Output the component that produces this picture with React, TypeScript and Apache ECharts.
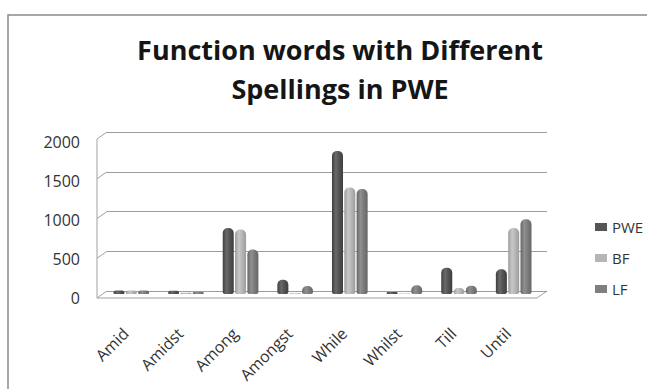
import React, { useEffect, useRef } from "react";
import * as echarts from "echarts";

const categories = ["Amid", "Amidst", "Among", "Amongst", "While", "Whilst", "Till", "Until"];
const seriesNames = ["PWE", "BF", "LF"];
const pweValues = [45, 40, 830, 180, 1800, 25, 330, 310];
const bfValues = [45, 15, 810, 10, 1340, 5, 75, 830];
const lfValues = [45, 25, 560, 100, 1320, 110, 105, 940];
const yTicks = [0, 500, 1000, 1500, 2000];
const legendColors = ["#555555", "#b6b6b6", "#7f7f7f"];

const FONT = "'Open Sans', 'DejaVu Sans', sans-serif";

function cyl(edge: string, mid: string, hi: string) {
  return {
    type: "linear",
    x: 0,
    y: 0,
    x2: 1,
    y2: 0,
    colorStops: [
      { offset: 0, color: edge },
      { offset: 0.35, color: hi },
      { offset: 0.6, color: mid },
      { offset: 1, color: edge },
    ],
  };
}

export default function App() {
  const ref = useRef<HTMLDivElement>(null);
  useEffect(() => {
    if (!ref.current) return;
    const chart = echarts.init(ref.current, undefined, { renderer: "svg" });

    const wallLeft = 107;
    const wallRight = 547;
    const wallTop = 132;
    const wallH = 159;
    const depthX = 10;
    const depthY = 5;
    const frontLeft = wallLeft - depthX;
    const yMax = yTicks[yTicks.length - 1];
    const gridYs = yTicks.map((t) => wallTop + wallH - (t / yMax) * wallH);
    const floorBack = wallTop + wallH;
    const floorFront = floorBack + depthY + 2;

    const deco: any[] = [
      {
        type: "rect",
        shape: { x: 8, y: 15, width: 720, height: 420 },
        style: { fill: "none", stroke: "#8a8a8a", lineWidth: 1.5 },
        silent: true,
      },
      {
        type: "text",
        x: 340,
        y: 30,
        style: {
          text: "Function words with Different\nSpellings in PWE",
          align: "center",
          verticalAlign: "top",
          font: `bold 27px ${FONT}`,
          lineHeight: 39,
          fill: "#151515",
        },
      },
      {
        type: "line",
        shape: { x1: frontLeft, y1: gridYs[gridYs.length - 1] + depthY + 2, x2: frontLeft, y2: floorFront },
        style: { stroke: "#a0a0a0", lineWidth: 1 },
        silent: true,
      },
      {
        type: "polyline",
        shape: {
          points: [
            [frontLeft, floorFront],
            [wallRight - depthX, floorFront],
            [wallRight, floorBack],
          ],
        },
        style: { stroke: "#a0a0a0", lineWidth: 1, fill: "none" },
        silent: true,
      },
    ];
    gridYs.forEach((gy, i) => {
      deco.push({
        type: "line",
        shape: { x1: frontLeft, y1: i === 0 ? floorFront : gy + depthY + 2, x2: wallLeft, y2: gy },
        style: { stroke: "#a0a0a0", lineWidth: 1 },
        silent: true,
      });
    });

    const mkSeries = (name: string, data: number[], solid: string, grad: any) => ({
      name,
      type: "bar",
      xAxisIndex: 1,
      yAxisIndex: 1,
      data: data.map((v) => ({ value: v, itemStyle: { color: grad, borderRadius: [5, 5, 2, 2] } })),
      barWidth: 11,
      barGap: "12%",
      itemStyle: { color: solid },
    });

    chart.setOption({
      animation: false,
      backgroundColor: "#fff",
      graphic: deco,
      grid: [
        { left: wallLeft, width: wallRight - wallLeft, top: wallTop, height: wallH },
        { left: 104, width: 437, top: 135, height: 159 },
        { left: 88, width: 10, top: 142, height: 156 },
      ],
      xAxis: [
        { type: "value", gridIndex: 0, show: false },
        {
          type: "category",
          gridIndex: 1,
          data: categories,
          axisLine: { show: false },
          axisTick: { show: false },
          axisLabel: {
            rotate: 45,
            margin: 31,
            interval: 0,
            color: "#333333",
            fontFamily: FONT,
            fontSize: 16,
            padding: [0, 8, 16, 0],
          },
        },
        { type: "value", gridIndex: 2, show: false },
      ],
      yAxis: [
        {
          type: "value",
          gridIndex: 0,
          min: 0,
          max: yMax,
          interval: 500,
          axisLine: { show: false },
          axisTick: { show: false },
          axisLabel: { show: false },
          splitLine: { show: true, lineStyle: { color: "#9c9c9c", width: 1 } },
        },
        {
          type: "value",
          gridIndex: 1,
          min: 0,
          max: yMax,
          interval: 500,
          show: false,
          splitLine: { show: false },
        },
        {
          type: "value",
          gridIndex: 2,
          min: 0,
          max: yMax,
          interval: 500,
          axisLine: { show: false },
          axisTick: { show: false },
          splitLine: { show: false },
          axisLabel: {
            margin: 8,
            color: "#333333",
            fontFamily: FONT,
            fontSize: 16,
            formatter: (v: number) => String(v),
          },
        },
      ],
      legend: {
        orient: "vertical",
        left: 590,
        top: 214,
        itemWidth: 12,
        itemHeight: 8,
        itemGap: 15,
        icon: "rect",
        symbolKeepAspect: false,
        data: seriesNames,
        textStyle: { color: "#333333", fontFamily: FONT, fontSize: 15, lineHeight: 16 },
      },
      series: [
        mkSeries(seriesNames[0], pweValues, legendColors[0], cyl("#3e3e3e", "#555555", "#6a6a6a")),
        mkSeries(seriesNames[1], bfValues, legendColors[1], cyl("#9c9c9c", "#b8b8b8", "#c8c8c8")),
        mkSeries(seriesNames[2], lfValues, legendColors[2], cyl("#666666", "#7e7e7e", "#909090")),
      ],
    });
    return () => chart.dispose();
  }, []);
  return (
    <div
      ref={ref}
      style={{ position: "absolute", left: 0, top: 0, width: 647, height: 389 }}
    />
  );
}
